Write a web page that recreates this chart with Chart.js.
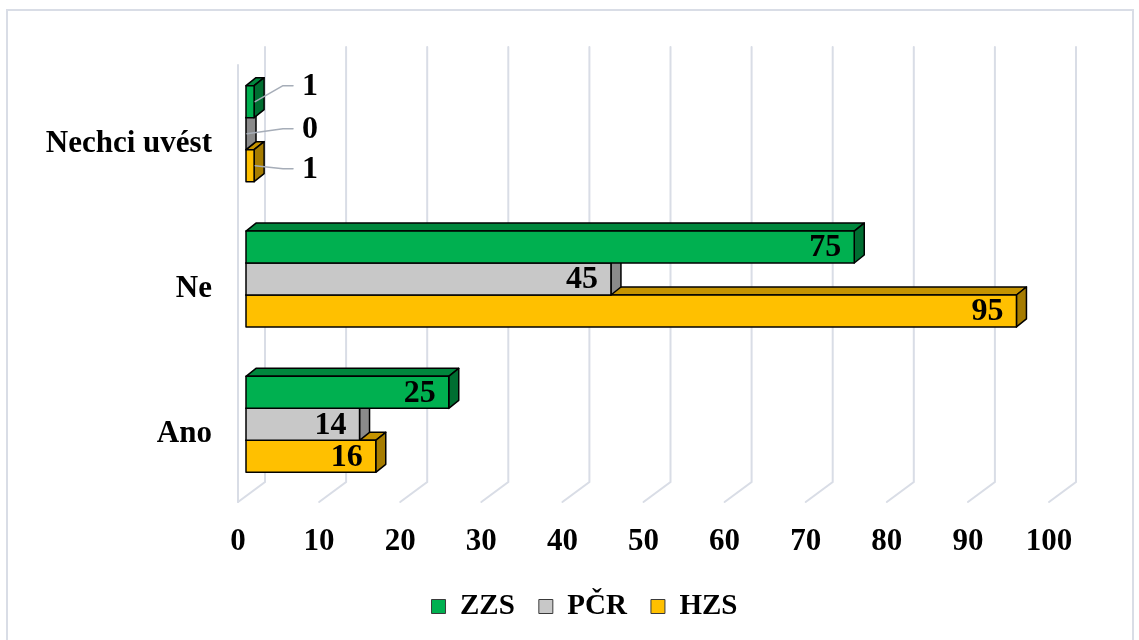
<!DOCTYPE html>
<html>
<head>
<meta charset="utf-8">
<script src="https://cdn.jsdelivr.net/npm/chart.js@4.4.0/dist/chart.umd.min.js"></script>
<style>
  html, body { margin: 0; padding: 0; background: #ffffff; }
  #wrap { width: 1139px; height: 640px; position: relative; }
</style>
</head>
<body>
<div id="wrap"><canvas id="c" width="1139" height="640"></canvas></div>
<script>
// Answers per category, top to bottom
const categories = ['Nechci uvést', 'Ne', 'Ano'];
const seriesNames = ['ZZS', 'PČR', 'HZS'];
const zzsValues = [1, 75, 25];
const pcrValues = [0, 45, 14];
const hzsValues = [1, 95, 16];
const valueTicks = [0, 10, 20, 30, 40, 50, 60, 70, 80, 90, 100];

// Face colours for the 3D boxes: front, top, side
const palette = [
  { front: '#00B050', top: '#00873D', side: '#006E31' },
  { front: '#C8C8C8', top: '#9E9E9E', side: '#8A8A8A' },
  { front: '#FFC000', top: '#C59300', side: '#A67C00' }
];

// Where the outside value labels sit relative to their bar (small bars only)
const outsideLabelDy = [-16, -5, 3];

const SERIF = '"Liberation Serif", "Times New Roman", serif';
const DEPTH_X = 10, DEPTH_Y = -8;       // bar depth
const FLOOR_X = 27, FLOOR_Y = -20;      // wall depth
const BAR_FRONT_SHIFT = 8;              // bars sit slightly behind the front edge
const LEGEND_SHIFT = 36;                // legend centred under the plot, not the canvas

const boxPlugin = {
  id: 'box3d',
  afterLayout(chart) {
    if (chart.legend) {
      chart.legend.left += LEGEND_SHIFT;
      chart.legend.right += LEGEND_SHIFT;
    }
  },
  beforeDraw(chart) {
    const ctx = chart.ctx;
    ctx.save();
    ctx.fillStyle = '#ffffff';
    ctx.fillRect(0, 0, chart.width, chart.height);
    ctx.strokeStyle = '#D9DDE6';
    ctx.lineWidth = 2;
    ctx.strokeRect(7, 10, 1126, 640);
    ctx.restore();
  },
  beforeDatasetsDraw(chart) {
    const ctx = chart.ctx;
    const xs = chart.scales.x;
    const area = chart.chartArea;
    const floorY = area.bottom + 5;
    ctx.save();
    // back wall gridlines with their floor segments
    ctx.strokeStyle = '#D9DDE6';
    ctx.lineWidth = 2;
    ctx.lineCap = 'round';
    valueTicks.forEach(v => {
      const fx = xs.getPixelForValue(v) - BAR_FRONT_SHIFT;
      ctx.beginPath();
      ctx.moveTo(fx + FLOOR_X, area.top - 14);
      ctx.lineTo(fx + FLOOR_X, floorY + FLOOR_Y);
      ctx.lineTo(fx, floorY);
      ctx.stroke();
    });
    const x0 = xs.getPixelForValue(0) - BAR_FRONT_SHIFT;
    ctx.beginPath();
    ctx.moveTo(x0, area.top + 4);
    ctx.lineTo(x0, floorY);
    ctx.stroke();

    // boxes, back series first so upper bars cover the tops of lower ones
    ctx.lineJoin = 'round';
    ctx.strokeStyle = '#000000';
    ctx.lineWidth = 1.5;
    for (let d = chart.data.datasets.length - 1; d >= 0; d--) {
      const meta = chart.getDatasetMeta(d);
      const col = palette[d];
      meta.data.forEach(el => {
        const p = el.getProps(['x', 'y', 'base', 'height'], true);
        const xa = p.base, xb = p.x;
        const ya = p.y - p.height / 2, yb = p.y + p.height / 2;
        // top face
        ctx.beginPath();
        ctx.moveTo(xa, ya);
        ctx.lineTo(xb, ya);
        ctx.lineTo(xb + DEPTH_X, ya + DEPTH_Y);
        ctx.lineTo(xa + DEPTH_X, ya + DEPTH_Y);
        ctx.closePath();
        ctx.fillStyle = col.top;
        ctx.fill();
        ctx.stroke();
        // side face
        ctx.beginPath();
        ctx.moveTo(xb, ya);
        ctx.lineTo(xb + DEPTH_X, ya + DEPTH_Y);
        ctx.lineTo(xb + DEPTH_X, yb + DEPTH_Y);
        ctx.lineTo(xb, yb);
        ctx.closePath();
        ctx.fillStyle = col.side;
        ctx.fill();
        ctx.stroke();
        // front face
        if (xb - xa > 0.5) {
          ctx.fillStyle = col.front;
          ctx.fillRect(xa, ya, xb - xa, yb - ya);
          ctx.strokeRect(xa, ya, xb - xa, yb - ya);
        }
      });
    }

    // value labels
    ctx.font = 'bold 32px ' + SERIF;
    ctx.textBaseline = 'middle';
    chart.data.datasets.forEach((ds, d) => {
      const meta = chart.getDatasetMeta(d);
      meta.data.forEach((el, i) => {
        const v = ds.data[i];
        const p = el.getProps(['x', 'y', 'base', 'height'], true);
        if (v >= 5) {
          ctx.fillStyle = '#000000';
          ctx.textAlign = 'right';
          ctx.fillText(String(v), p.x - 13, p.y + 1);
        } else {
          const ly = p.y + outsideLabelDy[d];
          const lx = p.base + 56;
          ctx.strokeStyle = '#A6ADB8';
          ctx.lineWidth = 1.5;
          ctx.beginPath();
          ctx.moveTo(p.x + 1, p.y);
          ctx.lineTo(lx - 19, ly);
          ctx.lineTo(lx - 9, ly);
          ctx.stroke();
          ctx.fillStyle = '#000000';
          ctx.textAlign = 'left';
          ctx.fillText(String(v), lx, ly + 1);
        }
      });
    });
    ctx.restore();
    return false;
  }
};

const makeSet = (label, data, idx) => ({
  label: label,
  data: data,
  backgroundColor: palette[idx].front,
  borderColor: '#3a3a3a',
  borderWidth: 1,
  categoryPercentage: 0.66,
  barPercentage: 1.0
});

new Chart(document.getElementById('c'), {
  type: 'bar',
  data: {
    labels: categories,
    datasets: [
      makeSet(seriesNames[0], zzsValues, 0),
      makeSet(seriesNames[1], pcrValues, 1),
      makeSet(seriesNames[2], hzsValues, 2)
    ]
  },
  options: {
    indexAxis: 'y',
    responsive: false,
    animation: false,
    layout: { padding: { left: 40, right: 82, top: 61, bottom: 9 } },
    scales: {
      x: {
        min: 0,
        max: 100,
        afterBuildTicks(scale) { scale.ticks = valueTicks.map(v => ({ value: v })); },
        afterFit(scale) { scale.height = 71; },
        grid: { display: false, drawTicks: false },
        border: { display: false },
        ticks: {
          color: '#000000',
          font: { family: SERIF, size: 31, weight: 'bold' },
          labelOffset: -8,
          padding: 26,
          maxRotation: 0
        }
      },
      y: {
        afterFit(scale) { scale.width = 206; },
        grid: { display: false, drawTicks: false },
        border: { display: false },
        ticks: {
          color: '#000000',
          font: { family: SERIF, size: 31, weight: 'bold' },
          labelOffset: 10,
          padding: 34
        }
      }
    },
    plugins: {
      tooltip: { enabled: false },
      legend: {
        position: 'bottom',
        labels: {
          color: '#000000',
          font: { family: SERIF, size: 29, weight: 'bold' },
          boxWidth: 14,
          boxHeight: 14,
          padding: 24
        }
      }
    }
  },
  plugins: [boxPlugin]
});
</script>
</body>
</html>
